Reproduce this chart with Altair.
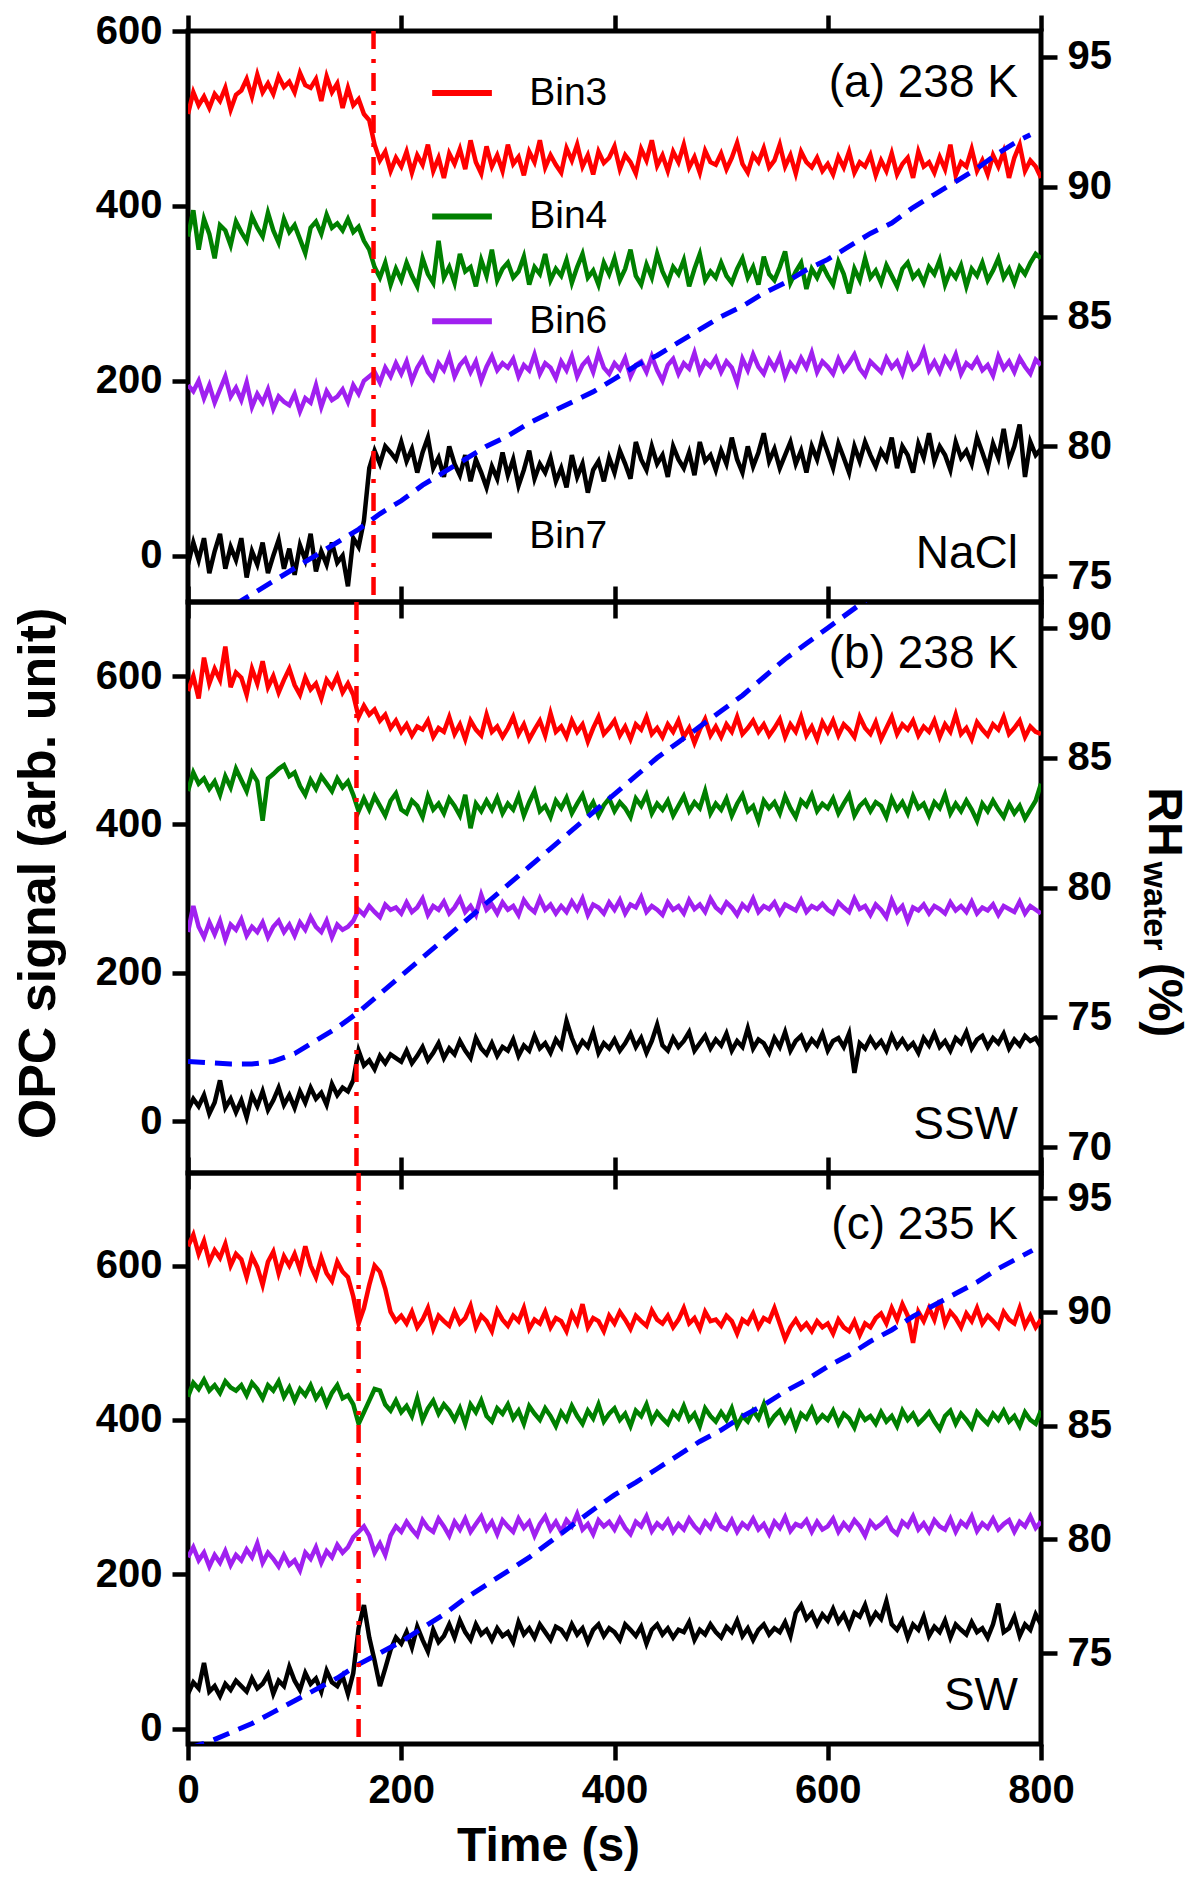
import altair as alt
import pandas as pd

FONT = "Liberation Sans"

# ---------------- data ----------------
TIME = list(range(0, 801, 5))          # sample times (s)
SERIES = ["Bin3", "Bin4", "Bin6", "Bin7"]
COLORS = ["#FF0000", "#008000", "#A020F0", "#000000"]
RH_COLOR = "#0000FF"
ONSET_COLOR = "#FF0000"

# (a) NaCl, 238 K
A_BIN3 = [
    505, 530, 515, 525, 512, 528, 520, 535, 510, 527,
    532, 545, 525, 550, 530, 540, 528, 548, 536, 542,
    530, 552, 538, 535, 545, 520, 548, 530, 540, 512,
    535, 515, 522, 505, 498, 470, 452, 462, 440, 455,
    445, 462, 438, 458, 447, 470, 440, 455, 432, 460,
    448, 465, 442, 475, 450, 437, 468, 445, 458, 440,
    470, 448, 456, 435, 462, 450, 475, 444, 458, 447,
    438, 466, 452, 470, 445, 458, 436, 462, 449, 455,
    468, 442, 458, 450, 437, 465, 452, 475, 446, 458,
    440, 462, 450, 470, 444, 456, 438, 463, 450, 447,
    460, 442, 455, 472, 448, 438, 458, 450, 466, 444,
    452, 470, 445, 458, 437, 462, 450, 444, 455, 440,
    448, 436, 456, 444, 462, 438, 450, 445, 458, 435,
    452, 440, 460, 436, 448, 455, 432, 462, 445, 450,
    438, 456, 442, 470, 435, 450, 445, 465, 440, 452,
    436, 458, 445, 462, 432, 455, 470, 440, 452, 445,
    432]
A_BIN4 = [
    365, 395, 350, 385, 368, 340, 378, 372, 355, 382,
    370, 360, 388, 375, 365, 392, 372, 358, 385, 370,
    378, 362, 346, 375, 382, 368, 390, 375, 380, 372,
    385, 370, 376, 360, 350, 330, 318, 335, 310, 328,
    315, 335, 320, 308, 340, 322, 312, 360, 318, 330,
    312, 345, 325, 330, 308, 338, 320, 350, 315, 328,
    335, 318, 325, 342, 310, 330, 322, 345, 315, 328,
    320, 338, 312, 330, 345, 318, 326, 310, 335, 322,
    340, 315, 328, 350, 320, 310, 333, 318, 345, 325,
    312, 330, 322, 338, 308, 328, 345, 315, 325, 318,
    335, 320, 312, 328, 340, 318, 330, 310, 342, 322,
    315, 330, 348, 312, 325, 335, 305, 328, 318, 332,
    320, 310, 336, 322, 300, 328, 315, 340, 318, 326,
    312, 332, 320, 308, 328, 335, 318, 325, 312, 330,
    322, 338, 310, 326, 318, 332, 308, 328, 320, 335,
    315, 326, 340, 318, 328, 312, 330, 322, 335, 345,
    340]
A_BIN6 = [
    195, 188, 200, 180, 195, 175, 190, 205, 182, 192,
    178, 198, 170, 185, 175, 190, 168, 182, 176, 172,
    185, 165, 180, 175, 195, 170, 188, 178, 182, 190,
    176, 195, 185, 200, 205, 210, 198, 215, 205, 220,
    208, 222, 200, 215, 225, 210, 202, 220, 212, 228,
    205, 218, 225, 210, 222, 200, 216, 228, 212, 220,
    215, 225, 205, 218, 212, 230, 208, 220, 215, 203,
    222, 212, 228, 205, 218, 225, 210, 232, 215, 208,
    220, 213, 226, 205, 218, 222, 210, 228, 212, 200,
    218, 225, 208, 220, 214, 232, 210, 222, 216, 226,
    210, 222, 215, 198, 225, 212, 230, 216, 208, 224,
    214, 228, 205, 220, 212, 226, 215, 232, 210, 222,
    216, 208, 225, 212, 220, 230, 214, 206, 222, 216,
    210, 226, 215, 222, 208, 228, 214, 220, 235, 212,
    222, 210, 226, 216, 230, 208, 220, 215, 225, 212,
    218, 206, 228, 214, 222, 210, 226, 216, 208, 224,
    218]
A_BIN7 = [
    -10, 15, -5, 20, -20, 5, 25, -15, 10, -5,
    20, -25, 5, -10, 15, -20, 0, 18, -15, 8,
    -22, 12, -5, 25, -18, 5, -10, 15, -8, 0,
    -35, 20, 10, 40, 100, 120, 105, 125, 118, 110,
    130, 108, 122, 95, 118, 135, 100, 112, 90, 125,
    105, 92, 115, 85, 110, 95, 78, 102, 88, 118,
    92, 110, 80, 98, 120, 88, 105, 95, 112, 85,
    100, 78, 115, 90, 105, 72, 98, 108, 85, 112,
    95, 120, 105, 88, 130, 110, 98, 125, 105, 115,
    90, 125, 110, 100, 118, 92, 130, 108, 115, 98,
    120, 105, 135, 110, 95, 125, 102, 118, 140, 108,
    122, 100, 115, 130, 105, 120, 95, 125, 110, 135,
    118, 100, 128, 112, 95, 125, 108, 130, 115, 102,
    120, 110, 135, 100, 125, 115, 95, 128, 112, 140,
    108, 125, 115, 98, 130, 112, 120, 105, 135, 118,
    100, 128, 112, 145, 108, 125, 150, 90, 130, 115,
    122]
RH_A_T = [0, 20, 40, 60, 80, 100, 120, 140, 160, 180, 200, 220, 240, 260,
          280, 300, 320, 340, 360, 380, 400, 420, 440, 460, 480, 500, 520,
          540, 560, 580, 600, 620, 640, 660, 680, 700, 720, 740, 760, 780, 790]
RH_A = [72.8, 73.3, 73.8, 74.3, 74.8, 75.3, 75.8, 76.3, 76.8, 77.4, 77.9,
        78.5, 79.0, 79.5, 80.0, 80.4, 80.9, 81.3, 81.7, 82.1, 82.6, 83.1,
        83.5, 84.0, 84.5, 85.0, 85.4, 85.9, 86.3, 86.8, 87.2, 87.7, 88.2,
        88.6, 89.2, 89.7, 90.2, 90.7, 91.3, 91.8, 92.0]

# (b) SSW, 238 K
B_BIN3 = [
    580, 600, 570, 625, 590, 610, 595, 640, 585, 605,
    598, 575, 610, 590, 620, 585, 600, 578, 595, 610,
    588, 575, 598, 582, 590, 570, 595, 585, 600, 578,
    590, 575, 545, 560, 548, 555, 540, 548, 530, 540,
    525, 535, 520, 532, 528, 540, 518, 530, 525, 545,
    522, 535, 515, 540, 528, 520, 548, 525, 532, 518,
    530, 545, 522, 535, 515, 528, 540, 520, 550, 525,
    532, 518, 540, 525, 535, 512, 530, 545, 522, 530,
    540, 520, 532, 515, 535, 528, 545, 522, 530, 518,
    535, 525, 540, 518, 530, 510, 528, 542, 520, 532,
    518, 535, 525, 545, 522, 530, 540, 525, 535, 520,
    530, 542, 518, 535, 525, 545, 520, 532, 515, 538,
    525, 540, 520, 535, 528, 518, 545, 530, 522, 538,
    515, 530, 545, 522, 535, 528, 540, 520, 532, 525,
    540, 518, 535, 525, 548, 522, 530, 515, 538, 528,
    520, 535, 528, 545, 522, 530, 540, 518, 532, 525,
    522]
B_BIN4 = [
    445, 470, 455, 462, 448, 458, 440, 465, 450, 475,
    460, 445, 470, 458, 405, 462, 468, 475, 480, 465,
    470, 452, 440, 460, 448, 465, 455, 445, 462, 450,
    458, 440, 418, 435, 420, 438, 425, 412, 432, 442,
    420, 415, 432, 425, 410, 438, 420, 428, 415, 435,
    425, 412, 440, 395, 428, 418, 432, 420, 436, 415,
    428, 420, 438, 412, 430, 445, 418, 425, 410, 432,
    422, 436, 415, 428, 440, 418, 430, 412, 426, 435,
    418, 430, 422, 410, 435, 425, 440, 415, 428, 420,
    432, 412, 425, 438, 418, 430, 422, 445, 415, 428,
    420, 435, 412, 428, 440, 418, 425, 405, 432, 422,
    430, 415, 438, 422, 410, 432, 425, 440, 418, 428,
    422, 435, 415, 428, 440, 412, 425, 432, 418, 430,
    425, 410, 435, 420, 430, 415, 438, 422, 428, 412,
    430, 422, 440, 415, 428, 418, 432, 420, 405, 428,
    418, 432, 420, 410, 428, 415, 425, 408, 420, 432,
    455]
B_BIN6 = [
    255, 290, 262, 248, 268, 252, 270, 245, 265, 258,
    272, 250, 262, 255, 268, 248, 262, 270, 255, 265,
    250, 268, 258, 275, 262, 255, 270, 248, 265, 258,
    262, 270, 285, 278, 290, 282, 275, 292, 285, 288,
    280, 295, 282, 288, 300, 278, 290, 285, 296, 280,
    288, 300, 282, 290, 278, 305, 285, 292, 280, 295,
    285, 290, 278, 298, 288, 282, 300, 285, 292, 280,
    290, 282, 296, 285, 300, 278, 292, 288, 280, 295,
    285, 298, 280, 292, 288, 302, 282, 290, 285, 278,
    295, 285, 290, 280, 298, 286, 292, 282, 300, 288,
    282, 295, 288, 278, 292, 285, 300, 282, 290, 286,
    295, 280, 292, 288, 284, 298, 282, 290, 286, 293,
    285, 280, 295, 288, 282, 300, 286, 290, 278, 292,
    285, 275, 298, 282, 290, 270, 288, 284, 292, 280,
    290, 286, 280, 295, 284, 290, 282, 296, 280, 288,
    284, 292, 278, 290, 286, 282, 296, 280, 290, 285,
    280]
B_BIN7 = [
    15, 30, 20, 35, 10, 25, 55, 18, 30, 12,
    28, 5, 35, 20, 40, 15, 28, 45, 22, 35,
    18, 40, 25, 45, 30, 38, 22, 50, 35, 45,
    40, 55, 95, 75, 82, 70, 88, 78, 90, 85,
    80, 95, 78, 88, 100, 82, 92, 105, 85, 98,
    90, 108, 95, 85, 112, 98, 90, 105, 88, 100,
    95, 110, 88, 102, 95, 115, 98, 105, 92, 110,
    100, 135, 112, 95, 108, 100, 120, 92, 105, 98,
    110, 95, 105, 118, 100, 112, 92, 108, 130, 102,
    95, 112, 100, 108, 120, 95, 105, 115, 98, 110,
    102, 118, 95, 108, 100, 125, 98, 110, 105, 92,
    112, 100, 120, 95, 108, 115, 98, 110, 102, 118,
    95, 108, 112, 100, 118, 65, 105, 98, 112, 100,
    108, 95, 115, 100, 110, 98, 105, 92, 112, 102,
    118, 100, 108, 95, 112, 105, 120, 98, 110, 115,
    100, 112, 105, 118, 98, 110, 102, 115, 108, 112,
    100]
RH_B_T = [0, 20, 40, 60, 80, 100, 120, 140, 160, 180, 200, 220, 240, 260,
          280, 300, 320, 340, 360, 380, 400, 420, 440, 460, 480, 500, 520,
          540, 560, 580, 600, 620, 640]
RH_B = [73.3, 73.25, 73.2, 73.2, 73.3, 73.6, 74.1, 74.6, 75.2, 75.9, 76.6,
        77.3, 78.0, 78.7, 79.4, 80.1, 80.8, 81.5, 82.2, 82.9, 83.6, 84.3,
        85.0, 85.6, 86.2, 86.8, 87.4, 88.1, 88.8, 89.4, 90.0, 90.6, 91.2]

# (c) SW, 235 K
C_BIN3 = [
    625, 640, 615, 632, 605, 620, 610, 628, 600, 615,
    608, 585, 612, 598, 575, 605, 618, 590, 612, 600,
    615, 595, 625, 600, 585, 610, 590, 580, 605, 592,
    585, 560, 525, 545, 575, 600, 592, 570, 540, 528,
    535, 525, 540, 520, 530, 545, 518, 535, 528, 522,
    540, 525, 532, 548, 520, 535, 528, 515, 542, 530,
    522, 535, 528, 545, 518, 530, 525, 540, 520, 532,
    528, 515, 538, 525, 550, 520, 532, 528, 515, 535,
    525, 540, 530, 518, 535, 528, 522, 542, 530, 525,
    535, 520, 530, 545, 525, 532, 518, 540, 528, 530,
    522, 535, 528, 512, 530, 525, 538, 520, 532, 528,
    545, 525, 505, 520, 530, 518, 525, 515, 528, 520,
    525, 512, 530, 520, 515, 528, 510, 525, 520, 532,
    538, 525, 545, 530, 550, 535, 500, 540, 528, 545,
    530, 555, 525, 540, 532, 520, 538, 528, 545, 525,
    535, 528, 520, 540, 530, 525, 545, 522, 535, 520,
    530]
C_BIN4 = [
    430, 448, 440, 452, 438, 445, 435, 450, 442, 438,
    445, 432, 448, 440, 428, 445, 438, 450, 430, 442,
    425, 440, 432, 445, 428, 438, 420, 435, 445, 428,
    432, 420, 395, 410, 425, 440, 438, 420, 412, 425,
    410, 418, 405, 428, 400, 415, 425, 408, 420, 412,
    400, 415, 395, 420, 410, 425, 405, 398, 415, 408,
    420, 402, 412, 395, 418, 408, 400, 415, 405, 392,
    410, 400, 418, 405, 395, 412, 402, 420, 398, 408,
    415, 400, 408, 392, 412, 405, 420, 398, 410, 402,
    395, 410, 402, 418, 400, 408, 392, 415, 405, 398,
    410, 400, 415, 392, 405, 398, 412, 402, 420, 395,
    405, 412, 398, 410, 390, 408, 402, 415, 398, 406,
    400, 412, 395, 408, 402, 390, 410, 400, 405, 395,
    410, 398, 405, 392, 412, 400, 408, 395, 402, 410,
    398, 388, 405, 412, 395, 408, 400, 390, 410, 402,
    395, 408, 400, 412, 398, 405, 392, 410, 400, 395,
    412]
C_BIN6 = [
    222, 235, 218, 228, 210, 225, 215, 230, 212, 225,
    218, 232, 222, 240, 215, 228, 220, 210, 225, 212,
    218, 205, 228, 220, 235, 215, 230, 222, 238, 228,
    235, 248, 255, 262, 250, 228, 240, 225, 250, 262,
    255, 268, 258, 250, 270, 260, 255, 272, 262, 250,
    268, 258, 272, 255, 265, 275, 258, 268, 252, 270,
    262, 255, 272, 260, 268, 250, 265, 275, 258, 268,
    255, 270, 262, 278, 258, 265, 252, 270, 262, 268,
    258, 272, 260, 252, 268, 262, 275, 256, 266, 260,
    270, 255, 265, 258, 272, 262, 255, 268, 260, 275,
    262, 258, 270, 255, 266, 260, 272, 258, 265, 252,
    268, 260, 274, 256, 265, 262, 270, 255, 268, 258,
    262, 272, 255, 266, 258, 270, 262, 250, 268, 260,
    265, 272, 258, 252, 268, 262, 275, 258, 266, 255,
    270, 262, 258, 272, 255, 268, 262, 275, 256, 266,
    260, 272, 258, 265, 270, 255, 268, 262, 275, 260,
    268]
C_BIN7 = [
    45, 60, 52, 85, 48, 55, 42, 58, 50, 62,
    55, 48, 65, 52, 58, 70, 45, 62, 55, 80,
    62, 50, 72, 58, 65, 48, 75, 60, 55, 68,
    45, 72, 130, 160, 118, 88, 55, 78, 102, 118,
    110, 125, 105, 132, 115, 100, 128, 112, 120, 135,
    118, 140, 125, 115, 135, 122, 128, 115, 130, 120,
    125, 112, 138, 122, 130, 118, 135, 125, 115, 132,
    128, 118, 135, 122, 130, 112, 128, 135, 120, 130,
    125, 115, 135, 128, 120, 132, 110, 128, 135, 122,
    130, 118, 128, 125, 138, 115, 128, 122, 135, 125,
    118, 132, 125, 140, 120, 130, 115, 128, 135, 122,
    130, 125, 138, 120, 150, 160, 142, 150, 135, 148,
    140, 155, 138, 148, 132, 150, 145, 160, 138, 150,
    142, 165, 135, 128, 140, 118, 135, 128, 145, 120,
    132, 125, 140, 118, 135, 128, 122, 138, 125, 130,
    118, 135, 162, 125, 130, 145, 120, 135, 128, 148,
    135]
RH_C_T = [0, 20, 40, 60, 80, 100, 120, 140, 160, 180, 200, 220, 240, 260,
          280, 300, 320, 340, 360, 380, 400, 420, 440, 460, 480, 500, 520,
          540, 560, 580, 600, 620, 640, 660, 680, 700, 720, 740, 760, 780, 792]
RH_C = [70.8, 71.1, 71.5, 71.9, 72.4, 72.9, 73.4, 73.9, 74.5, 75.0, 75.5,
        76.1, 76.7, 77.4, 78.0, 78.6, 79.2, 79.9, 80.6, 81.3, 81.95, 82.5,
        83.1, 83.7, 84.3, 84.8, 85.4, 85.9, 86.5, 87.0, 87.6, 88.1, 88.7,
        89.2, 89.8, 90.3, 90.8, 91.3, 91.9, 92.4, 92.7]

ONSETS = [174, 158, 160]          # dash-dot vertical line (s)

# legend layout in panel (a), in data units
LEGEND_LINE_T = (229, 285)
LEGEND_TEXT_T = 320
LEGEND_Y = [529, 388, 268, 23]

# ---------------- layout ----------------
W, H = 853, 571


def long_df(bins):
    frames = []
    for name, vals in zip(SERIES, bins):
        n = min(len(vals), len(TIME))
        frames.append(pd.DataFrame({"t": TIME[:n], "v": vals[:n], "series": name}))
    return pd.concat(frames, ignore_index=True)


def panel(bins, rh_t, rh_v, onset, opc_dom, rh_dom, rh_ticks, top_label,
          bottom_label, x_labels=False, left_title=None, legend=False,
          right_title=False):
    xs = alt.Scale(domain=[0, 800], nice=False, zero=False)
    xticks = [0, 200, 400, 600, 800]
    if x_labels:
        xaxis = alt.Axis(values=xticks, title="Time (s)", labelFlush=False,
                         titleX=360, titlePadding=12, titleFontSize=48)
    else:
        xaxis = alt.Axis(values=xticks, labels=False, title=None)
    if left_title:
        yaxis = alt.Axis(values=[0, 200, 400, 600], title=left_title,
                         titleY=271, titlePadding=30)
    else:
        yaxis = alt.Axis(values=[0, 200, 400, 600], title=None)
    ys = alt.Scale(domain=opc_dom, nice=False, zero=False)
    cs = alt.Scale(domain=SERIES, range=COLORS)

    lines = alt.Chart(long_df(bins)).mark_line(strokeWidth=4.5, clip=True).encode(
        x=alt.X("t:Q", scale=xs, axis=xaxis),
        y=alt.Y("v:Q", scale=ys, axis=yaxis),
        color=alt.Color("series:N", scale=cs, legend=None),
    )
    opc_layers = [lines]
    if legend:
        leg = pd.DataFrame({"series": SERIES, "y": LEGEND_Y,
                            "t0": [LEGEND_LINE_T[0]] * 4,
                            "t1": [LEGEND_LINE_T[1]] * 4,
                            "tl": [LEGEND_TEXT_T] * 4})
        leg_rule = alt.Chart(leg).mark_rule(strokeWidth=6).encode(
            x=alt.X("t0:Q", scale=xs, axis=xaxis),
            x2="t1:Q",
            y=alt.Y("y:Q", scale=ys, axis=yaxis),
            color=alt.Color("series:N", scale=cs, legend=None),
        )
        leg_text = alt.Chart(leg).mark_text(
            align="left", baseline="middle", font=FONT, fontSize=39,
            color="black").encode(
            x=alt.X("tl:Q", scale=xs, axis=xaxis),
            y=alt.Y("y:Q", scale=ys, axis=yaxis),
            text="series:N",
        )
        opc_layers += [leg_rule, leg_text]
    opc = alt.layer(*opc_layers)

    rh = alt.Chart(pd.DataFrame({"t": rh_t, "rh": rh_v})).mark_line(
        color=RH_COLOR, strokeWidth=5, strokeDash=[17, 10], clip=True
    ).encode(
        x=alt.X("t:Q", scale=xs, axis=None),
        y=alt.Y("rh:Q", scale=alt.Scale(domain=rh_dom, nice=False, zero=False),
                axis=alt.Axis(orient="right", values=rh_ticks, title=None)),
    )

    rule = alt.Chart(pd.DataFrame({"t": [onset]})).mark_rule(
        color=ONSET_COLOR, strokeWidth=4.5, strokeDash=[18, 10, 4, 10]
    ).encode(
        x=alt.X("t:Q", scale=xs,
                axis=alt.Axis(orient="top", values=xticks, labels=False,
                              title=None)),
    )

    def label(txt, y):
        return alt.Chart(pd.DataFrame({"s": [txt]})).mark_text(
            align="right", baseline="alphabetic", font=FONT, fontSize=46,
            color="black").encode(x=alt.value(W - 23), y=alt.value(y),
                                  text="s:N")

    layers = [opc, rh, rule, label(top_label, 66), label(bottom_label, 537)]

    if right_title:
        for txt, dx, y, size in [("RH", 108, 220, 48), ("water", 103, 304, 34),
                                 ("(%)", 108, 398, 48)]:
            layers.append(
                alt.Chart(pd.DataFrame({"s": [txt]})).mark_text(
                    angle=90, align="center", baseline="alphabetic", font=FONT,
                    fontSize=size, fontWeight="bold", color="black"
                ).encode(x=alt.value(W + dx), y=alt.value(y), text="s:N")
            )

    return (alt.layer(*layers)
            .resolve_scale(y="independent")
            .resolve_axis(x="independent")
            .properties(width=W, height=H))


pa = panel([A_BIN3, A_BIN4, A_BIN6, A_BIN7], RH_A_T, RH_A, ONSETS[0],
           [-53, 600], [74, 96], [75, 80, 85, 90, 95], "(a) 238 K", "NaCl",
           legend=True)
pb = panel([B_BIN3, B_BIN4, B_BIN6, B_BIN7], RH_B_T, RH_B, ONSETS[1],
           [-70, 700], [69, 91], [70, 75, 80, 85, 90], "(b) 238 K", "SSW",
           left_title="OPC signal (arb. unit)", right_title=True)
pc = panel([C_BIN3, C_BIN4, C_BIN6, C_BIN7], RH_C_T, RH_C, ONSETS[2],
           [-20, 720], [71, 96.1], [75, 80, 85, 90, 95], "(c) 235 K", "SW",
           x_labels=True)

chart = (
    alt.vconcat(pa, pb, pc, spacing=0, bounds="flush")
    .properties(padding={"left": 1, "top": 0, "right": 2, "bottom": 2},
                background="white")
    .configure_view(stroke="black", strokeWidth=5)
    .configure_axis(
        labelFont=FONT, labelFontSize=40, labelFontWeight="bold",
        labelColor="black", labelPadding=10,
        titleFont=FONT, titleFontSize=52, titleFontWeight="bold",
        titleColor="black",
        tickColor="black", tickWidth=4.5, tickSize=16,
        grid=False, domain=False,
    )
)

chart.save("out.html", embed_options={"renderer": "svg", "actions": False})
